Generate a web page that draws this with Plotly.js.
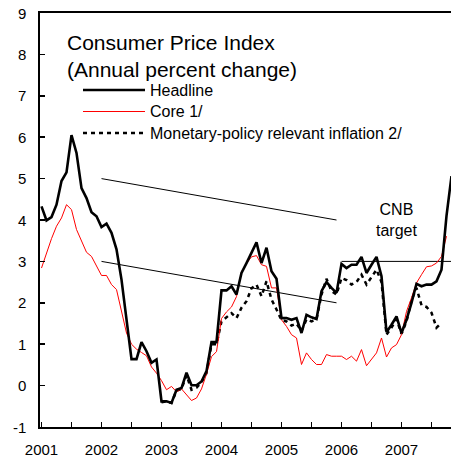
<!DOCTYPE html>
<html><head><meta charset="utf-8">
<script src="https://cdn.plot.ly/plotly-3.0.1.min.js"></script>
<style>html,body{margin:0;padding:0;background:#fff}#chart{width:451px;height:460px}</style>
</head><body><div id="chart"></div>
<script>
// ---- data (monthly, annual percent change) ----
const startYear = 2001; // January 2001
const headline = [4.33,3.99,4.07,4.37,4.94,5.15,6.05,5.62,4.77,4.53,4.19,4.09,
  3.83,3.91,3.69,3.29,2.56,1.59,0.64,0.64,1.05,0.83,0.55,0.63,
  -0.38,-0.38,-0.42,-0.10,-0.06,0.31,0.01,0.01,0.10,0.35,1.05,1.05,
  2.30,2.30,2.40,2.20,2.72,2.96,3.20,3.46,2.96,3.33,2.76,2.58,
  1.63,1.63,1.59,1.63,1.27,1.71,1.65,1.61,2.28,2.50,2.36,2.24,
  2.94,2.84,2.92,2.92,3.11,2.72,2.92,3.11,2.64,1.29,1.47,1.67,
  1.27,1.59,2.00,2.46,2.40,2.44,2.44,2.52,2.80,4.10,5.06];
const core = [2.84,3.20,3.55,3.85,4.05,4.37,4.25,3.77,3.49,3.22,3.12,2.88,
  2.66,2.66,2.44,2.32,1.76,1.27,1.00,0.88,0.80,0.72,0.45,0.30,
  0.12,-0.10,-0.02,-0.15,-0.08,-0.22,-0.36,-0.30,-0.08,0.28,0.70,0.82,
  1.62,1.78,1.90,2.15,2.75,2.95,3.11,3.14,2.92,2.88,2.36,2.36,
  1.59,1.43,1.23,1.15,0.51,0.79,0.63,0.51,0.51,0.75,0.71,0.71,
  0.71,0.63,0.71,0.59,0.87,0.48,0.63,0.79,1.15,0.69,0.91,0.99,
  1.23,1.79,2.12,2.48,2.68,2.87,2.89,2.96,3.12,3.61];
const mpriStartYear = 2003; // January 2003
const mpri = [-0.40,-0.38,-0.42,-0.12,-0.08,0.25,-0.10,-0.05,0.08,0.30,1.00,1.00,
  1.55,1.65,1.75,1.63,1.88,2.04,2.35,2.44,2.16,2.52,2.08,1.84,
  1.58,1.55,1.45,1.50,1.32,1.60,1.55,1.60,2.20,2.58,2.28,2.20,
  2.60,2.55,2.44,2.50,2.68,2.44,2.62,2.80,2.50,1.23,1.40,1.60,
  1.25,1.55,2.06,2.36,1.94,1.90,1.76,1.40,1.52];
const seriesNames = ["Headline", "Core 1/", "Monetary-policy relevant inflation 2/"];
// CNB target band (Jan 2002 - Dec 2005) and point target (from Jan 2006)
const bandX = [2002, 2005 + 11/12];
const bandUpper = [5, 4];
const bandLower = [3, 2];
const targetX = [2006, 2007 + 11/12];
const targetY = [3, 3];
const yearLabels = ["2001","2002","2003","2004","2005","2006","2007"];
const yTickValues = [-1, 0, 1, 2, 3, 4, 5, 6, 7, 8, 9];
const titleLines = ["Consumer Price Index", "(Annual percent change)"];
const targetLabel = ["CNB", "target"];

// ---- helpers ----
const monthX = (y0, n) => Array.from({length: n}, (_, i) => y0 + i / 12);
const W = 451, H = 460;
const M = {l: 40, r: 0, t: 13, b: 33};
const PW = W - M.l - M.r, PH = H - M.t - M.b;
const px = x => (x - M.l) / PW;
const py = y => (M.t + PH - y) / PH;
const FONT = '"Liberation Sans", Arial, sans-serif';

const x0 = startYear - 0.025;
const tickVals = [], tickText = [];
yearLabels.forEach(y => { tickVals.push(+y, +y + 0.5); tickText.push(y, ""); });

const thin = {color: "#000", width: 1};
const traces = [
  {x: bandX, y: bandUpper, mode: "lines", line: thin, hoverinfo: "skip"},
  {x: bandX, y: bandLower, mode: "lines", line: thin, hoverinfo: "skip"},
  {x: targetX, y: targetY, mode: "lines", line: thin, hoverinfo: "skip"},
  {x: monthX(mpriStartYear, mpri.length), y: mpri, name: seriesNames[2], mode: "lines",
   line: {color: "#000", width: 2.5, dash: "4px,4px"}},
  {x: monthX(startYear, core.length), y: core, name: seriesNames[1], mode: "lines",
   line: {color: "#ff0000", width: 1}},
  {x: monthX(startYear, headline.length), y: headline, name: seriesNames[0], mode: "lines",
   line: {color: "#000", width: 2.6}}
];

// manual legend (long line samples as in the original)
const legRows = [90, 111.5, 133];
const legStyles = [
  {color: "#000", width: 2.6},
  {color: "#ff0000", width: 1},
  {color: "#000", width: 2.5, dash: "4px,4px"}
];
const shapes = legRows.map((yy, k) => ({
  type: "line", xref: "paper", yref: "paper",
  x0: px(83), x1: px(145), y0: py(yy), y1: py(yy), line: legStyles[k]
}));
const annotations = legRows.map((yy, k) => ({
  xref: "paper", yref: "paper", x: px(148), y: py(yy), xanchor: "left", yanchor: "middle",
  text: seriesNames[k], showarrow: false, font: {family: FONT, size: 16, color: "#000"}
}));
annotations.push({
  xref: "x", yref: "y", x: 2006.92, y: 4.0, xanchor: "center", yanchor: "middle",
  text: targetLabel.join("<br>"), showarrow: false, font: {family: FONT, size: 16, color: "#000"}
});
// y-axis tick labels (placed like the original, right-aligned 13px left of the axis)
yTickValues.forEach(v => annotations.push({
  xref: "paper", yref: "y", x: px(27), y: v, xanchor: "right", yanchor: "middle",
  text: String(v), showarrow: false, borderpad: 0,
  font: {family: FONT, size: 15, color: "#000"}
}));

const layout = {
  width: W, height: H, margin: M, showlegend: false,
  paper_bgcolor: "#fff", plot_bgcolor: "#fff",
  font: {family: FONT, size: 15, color: "#000"},
  title: {text: titleLines.join("<br>"), xref: "container", yref: "container",
          x: 67 / W, xanchor: "left", y: 1 - 50 / H, yanchor: "top",
          font: {family: FONT, size: 21, color: "#000"}},
  xaxis: {range: [x0, x0 + PW / 60], tickmode: "array", tickvals: tickVals, ticktext: tickText,
          ticks: "inside", ticklen: 5, tickwidth: 1.5, tickcolor: "#000", ticklabelstandoff: 8,
          showline: true, linewidth: 2, linecolor: "#000", mirror: true,
          showgrid: false, zeroline: false, tickfont: {family: FONT, size: 15, color: "#000"}},
  yaxis: {range: [-1, 9], tickmode: "array", tickvals: yTickValues, showticklabels: false,
          ticks: "inside", ticklen: 5, tickwidth: 1.5, tickcolor: "#000",
          showline: true, linewidth: 2, linecolor: "#000",
          showgrid: false, zeroline: false},
  shapes: shapes, annotations: annotations
};

Plotly.newPlot("chart", traces, layout, {staticPlot: true, displayModeBar: false});
</script>
</body></html>
